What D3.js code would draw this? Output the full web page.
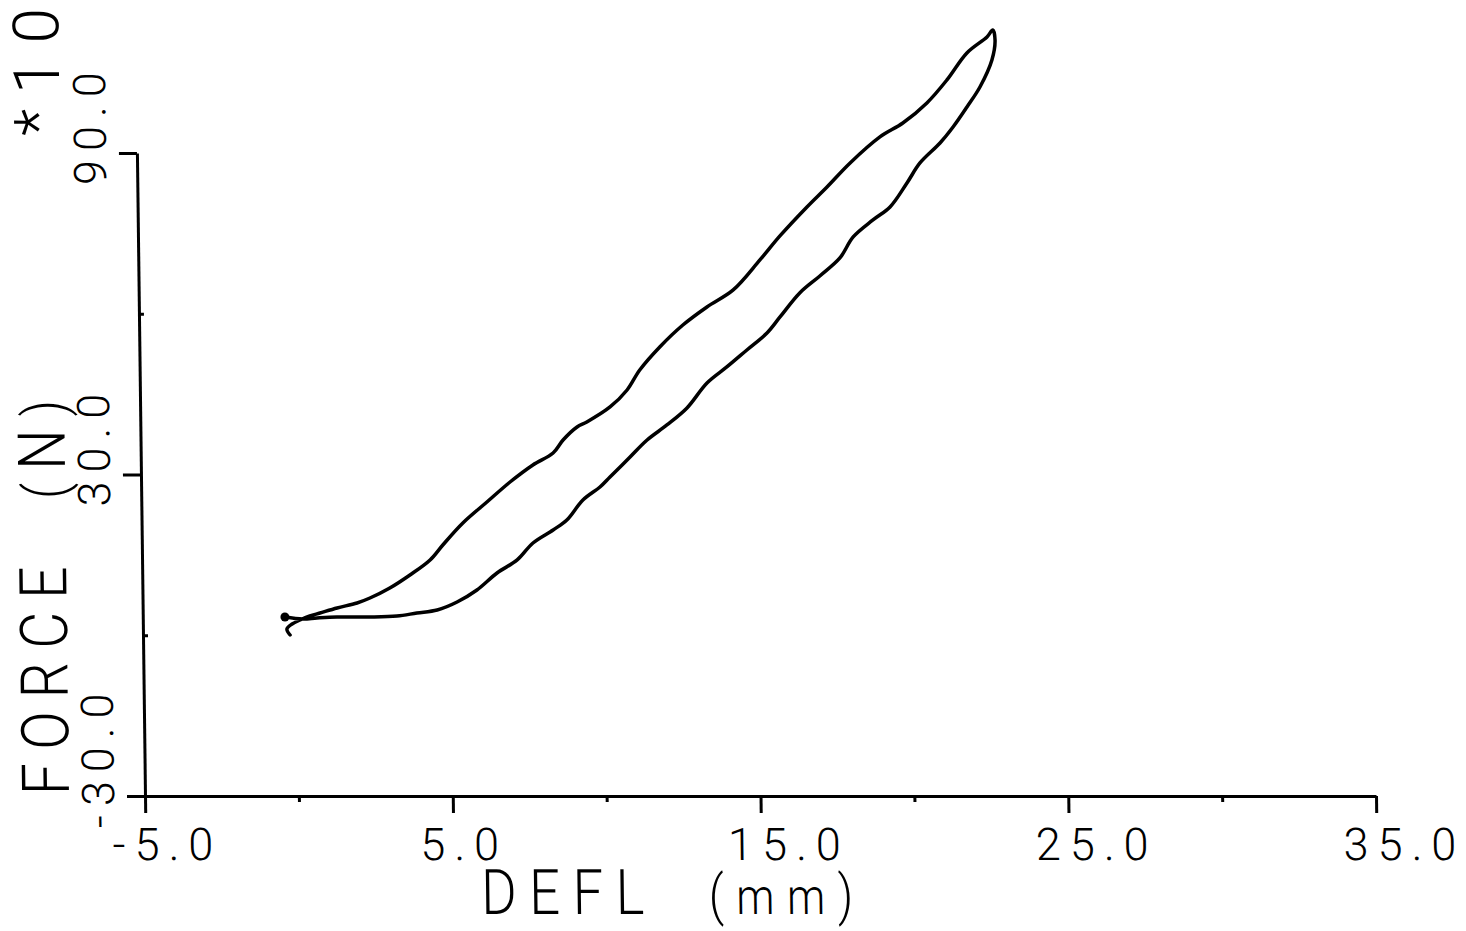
<!DOCTYPE html>
<html>
<head>
<meta charset="utf-8">
<script src="https://cdn.jsdelivr.net/npm/d3@7"></script>
<style>
  html, body { margin: 0; padding: 0; background: #fff; }
  svg { display: block; }
</style>
</head>
<body>
<svg id="chart" width="1466" height="931"></svg>
<script>
// Axis ticks and labels
const xTicksMajor = [-5, 5, 15, 25, 35];
const xTicksMinor = [0, 10, 20, 30];
const xTickLabels = ["-5.0", "5.0", "15.0", "25.0", "35.0"];
const yTicksMajor = [-30, 30, 90];
const yTicksMinor = [0, 60];
const yTickLabels = ["-30.0", "30.0", "90.0"];
const xTitleMain = "DEFL";
const xTitleUnit = "mm";
const yTitleMain = "FORCE";
const yTitleUnit = "N";
const yMultiplier = "*10";

// Loading branch: deflection (mm) and force (N, x10)
const loadDefl = [-0.22, -0.32, -0.15, 0.11, 0.43, 0.76, 1.32, 1.97, 2.39, 3.04, 3.70, 4.36, 4.78,
  5.44, 6.23, 6.99, 7.74, 8.40, 8.73, 9.19, 9.51, 10.27, 10.83, 11.25, 11.91, 12.67, 13.46,
  14.32, 15.20, 15.86, 16.75, 17.41, 18.17, 19.15, 19.90, 20.69, 21.35, 22.01, 22.67, 22.86];
const loadForce = [0.05, 1.17, 2.10, 2.85, 3.60, 4.15, 5.09, 6.02, 6.95, 8.82, 11.25, 14.05, 16.85,
  20.95, 24.87, 28.60, 31.78, 34.02, 36.44, 38.87, 39.80, 42.60, 45.77, 49.50, 53.80, 57.90, 61.27,
  64.44, 70.04, 74.52, 79.93, 83.66, 88.14, 93.00, 95.60, 99.34, 103.63, 108.67, 111.66, 112.96];

// Unloading branch
const unloadDefl = [22.93, 22.82, 22.42, 21.99, 21.53, 21.10, 20.44, 20.01, 19.45, 18.89, 18.24,
  17.80, 17.14, 16.48, 15.83, 15.40, 14.74, 14.08, 13.43, 12.77, 12.11, 11.46, 10.90, 10.24, 9.91,
  9.35, 8.82, 8.37, 7.71, 7.19, 6.53, 5.87, 5.22, 4.57, 3.91, 3.26, 2.38, 1.31, 0.66, 0.20, -0.38];
const unloadForce = [111.10, 107.36, 102.32, 98.60, 94.86, 91.87, 88.14, 84.41, 79.93, 77.50, 74.33,
  70.41, 67.05, 63.88, 59.40, 56.41, 53.24, 50.07, 47.08, 42.42, 39.24, 36.44, 33.27, 29.54, 27.67,
  25.24, 21.51, 19.65, 17.22, 14.05, 11.62, 8.45, 6.21, 4.71, 4.15, 3.59, 3.41, 3.41, 3.22, 3.03, 3.41];

const svg = d3.select("#chart");
const ink = "#000";

const x = d3.scaleLinear().domain([-5, 35]).range([145, 1376]);
const y = d3.scaleLinear().domain([-30, 90]).range([796, 153]);

// Whole plot is drawn with a slight shear (pen plotter paper offset)
const shearDeg = 0.72;
const root = svg.append("g")
  .attr("transform", `translate(0,${y(-30)}) skewX(${shearDeg}) translate(0,${-y(-30)})`);

function styleAxis(sel, w) {
  sel.selectAll("path.domain").attr("stroke", ink).attr("stroke-width", w);
  sel.selectAll(".tick line").attr("stroke", ink).attr("stroke-width", w);
  sel.selectAll(".tick text").remove();
}

// X axis
root.append("g")
  .attr("transform", `translate(0,${y(-30)})`)
  .call(d3.axisBottom(x).tickValues(xTicksMajor).tickSize(17).tickSizeOuter(0).tickFormat(() => ""))
  .call(s => styleAxis(s, 3));
root.append("g")
  .attr("transform", `translate(0,${y(-30)})`)
  .call(d3.axisBottom(x).tickValues(xTicksMinor).tickSize(6).tickSizeOuter(0).tickFormat(() => ""))
  .call(s => { s.select("path.domain").remove(); styleAxis(s, 3); });

// Y axis
root.append("g")
  .attr("transform", `translate(${x(-5)},0)`)
  .call(d3.axisLeft(y).tickValues(yTicksMajor).tickSize(18).tickSizeOuter(0).tickFormat(() => ""))
  .call(s => styleAxis(s, 3));
root.append("g")
  .attr("transform", `translate(${x(-5)},0)`)
  .call(d3.axisLeft(y).tickValues(yTicksMinor).tickSize(-5).tickSizeOuter(0).tickFormat(() => ""))
  .call(s => { s.select("path.domain").remove(); styleAxis(s, 3); });

const font = "Roboto, 'Liberation Sans', Arial, sans-serif";

// Tick labels
root.append("g").selectAll("text")
  .data(xTicksMajor)
  .join("text")
  .attr("x", d => x(d) - 33)
  .attr("y", 860)
  .attr("font-family", font)
  .attr("font-weight", 300)
  .attr("font-size", 45)
  .attr("letter-spacing", 9)
  .attr("fill", ink)
  .text((d, i) => xTickLabels[i]);

root.append("g").selectAll("text")
  .data(yTicksMajor)
  .join("text")
  .attr("transform", d => `translate(114,${y(d) + 32}) rotate(-90)`)
  .attr("font-family", font)
  .attr("font-weight", 300)
  .attr("font-size", 45)
  .attr("letter-spacing", 9)
  .attr("fill", ink)
  .text((d, i) => yTickLabels[i]);

// Axis title helper: capitals, then a bracketed unit
function axisTitle(transform, main, unit, len, size, unitSize) {
  const t = root.append("text")
    .attr("transform", transform)
    .attr("font-family", font)
    .attr("font-weight", 300)
    .attr("font-size", size)
    .attr("fill", ink)
    .attr("textLength", len)
    .attr("lengthAdjust", "spacing")
    .style("white-space", "pre");
  t.append("tspan").text(main + "  ");
  t.append("tspan").attr("font-size", size - 8).text("(");
  t.append("tspan").attr("font-size", unitSize).text(unit);
  t.append("tspan").attr("font-size", size - 8).text(")");
  return t;
}

const sx = 0.86;
axisTitle(`translate(480,914) scale(${sx},1)`, xTitleMain, xTitleUnit, 372 / sx, 63, 50);
axisTitle(`translate(69,795) rotate(-90) scale(${sx},1)`, yTitleMain, yTitleUnit, 395 / sx, 66, 66);

root.append("text")
  .attr("transform", "translate(68,136) rotate(-90)")
  .attr("font-family", font).attr("font-weight", 300)
  .attr("font-size", 64).attr("fill", ink)
  .attr("textLength", 128).attr("lengthAdjust", "spacing")
  .text(yMultiplier);

// Hysteresis loop: loading then unloading
const loop = loadDefl.map((d, i) => [d, loadForce[i]])
  .concat(unloadDefl.map((d, i) => [d, unloadForce[i]]));

const line = d3.line()
  .x(d => x(d[0]))
  .y(d => y(d[1]))
  .curve(d3.curveCatmullRom.alpha(0.5));

root.append("path")
  .datum(loop)
  .attr("d", line)
  .attr("fill", "none")
  .attr("stroke", ink)
  .attr("stroke-width", 3.5)
  .attr("stroke-linejoin", "round")
  .attr("stroke-linecap", "round");

// Pen-lift dot at the end of the trace
const last = loop[loop.length - 1];
root.append("circle")
  .attr("cx", x(last[0]))
  .attr("cy", y(last[1]))
  .attr("r", 4.5)
  .attr("fill", ink);
</script>
</body>
</html>
